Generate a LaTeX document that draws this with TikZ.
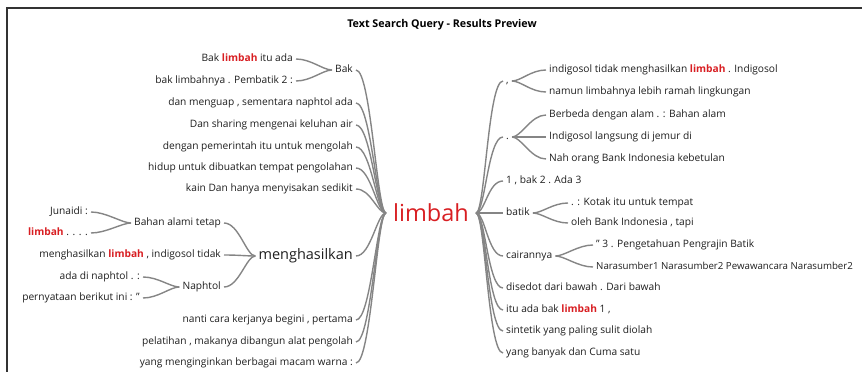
\documentclass[tikz,border=0pt]{standalone}
\usepackage{fontspec}
\setmainfont{Open Sans}
\definecolor{hitred}{HTML}{D81E22}
\definecolor{linkgray}{HTML}{858585}
\definecolor{wordgray}{HTML}{1E1E1E}
\newcommand{\hitword}{{\bfseries\color{hitred}limbah}}

\begin{document}
\begin{tikzpicture}[x=1pt,y=-1pt,
  word/.style={font=\fontsize{10.2}{12}\selectfont, text=wordgray, inner sep=3pt, text height=7.5pt, text depth=2.2pt},
  toleft/.style={draw=linkgray, line width=1.4pt, out=180, in=0, out distance=9pt, in distance=15pt},
  toright/.style={draw=linkgray, line width=1.4pt, out=0, in=180, out distance=9pt, in distance=15pt}]
\useasboundingbox (0,0) rectangle (862,372);
\draw[line width=1.5pt, draw=black!80] (862,8) -- (7,8) -- (7,372);

\node[font=\bfseries\fontsize{10.7}{12}\selectfont] (title) at (442,25) {Text Search Query - Results Preview};

% root
\node[text=hitred, font=\fontsize{23.5}{26}\selectfont, inner xsep=7pt, inner ysep=0pt] (root) at (431,213) {limbah};

% left side
\node[word, anchor=east] (bak) at (356,70) {Bak};
\node[word, anchor=east] (bak1) at (296,59) {Bak \hitword{} itu ada};
\node[word, anchor=east] (bak2) at (296,81) {bak limbahnya . Pembatik 2 :};
\node[word, anchor=east] (a1) at (356,103) {dan menguap , sementara naphtol ada};
\node[word, anchor=east] (a2) at (356,125) {Dan sharing mengenai keluhan air};
\node[word, anchor=east] (a3) at (356,147) {dengan pemerintah itu untuk mengolah};
\node[word, anchor=east] (a4) at (356,168) {hidup untuk dibuatkan tempat pengolahan};
\node[word, anchor=east] (a5) at (356,189) {kain Dan hanya menyisakan sedikit};

\node[word, anchor=east, font=\fontsize{14.5}{16}\selectfont, text height=10pt, text depth=3pt] (meng) at (356,256) {menghasilkan};
\node[word, anchor=east] (bahan) at (224,223) {Bahan alami tetap};
\node[word, anchor=east] (bahan1) at (91,212) {Junaidi :};
\node[word, anchor=east] (bahan2) at (91,233) {\hitword{} . . . .};
\node[word, anchor=east] (m2) at (224,255) {menghasilkan \hitword{} , indigosol tidak};
\node[word, anchor=east] (naph) at (224,287) {Naphtol};
\node[word, anchor=east] (naph1) at (143,277) {ada di naphtol . :};
\node[word, anchor=east] (naph2) at (143,298) {pernyataan berikut ini : "};

\node[word, anchor=east] (z1) at (356,320) {nanti cara kerjanya begini , pertama};
\node[word, anchor=east] (z2) at (356,342) {pelatihan , makanya dibangun alat pengolah};
\node[word, anchor=east] (z3) at (356,363) {yang menginginkan berbagai macam warna :};

% right side
\node[word, anchor=west] (comma) at (503,81) {,};
\node[word, anchor=west] (comma1) at (546,70) {indigosol tidak menghasilkan \hitword{} . Indigosol};
\node[word, anchor=west] (comma2) at (546,92) {namun limbahnya lebih ramah lingkungan};
\node[word, anchor=west] (dot) at (503,137) {.};
\node[word, anchor=west] (dot1) at (546,115) {Berbeda dengan alam . : Bahan alam};
\node[word, anchor=west] (dot2) at (546,137) {Indigosol langsung di jemur di};
\node[word, anchor=west] (dot3) at (546,159) {Nah orang Bank Indonesia kebetulan};
\node[word, anchor=west] (r1) at (503,181) {1 , bak 2 . Ada 3};
\node[word, anchor=west] (batik) at (503,213) {batik};
\node[word, anchor=west] (batik1) at (568,203) {. : Kotak itu untuk tempat};
\node[word, anchor=west] (batik2) at (568,223) {oleh Bank Indonesia , tapi};
\node[word, anchor=west] (cair) at (503,256) {cairannya};
\node[word, anchor=west] (cair1) at (593,245) {" 3 . Pengetahuan Pengrajin Batik};
\node[word, anchor=west, font=\fontsize{9.7}{12}\selectfont] (cair2) at (593,267) {Narasumber1 Narasumber2 Pewawancara Narasumber2};
\node[word, anchor=west] (r2) at (503,288) {disedot dari bawah . Dari bawah};
\node[word, anchor=west] (r3) at (503,310) {itu ada bak \hitword{} 1 ,};
\node[word, anchor=west] (r4) at (503,331) {sintetik yang paling sulit diolah};
\node[word, anchor=west] (r5) at (503,353) {yang banyak dan Cuma satu};

% links
\foreach \c in {bak,a1,a2,a3,a4,a5,meng,z1,z2,z3}
  \draw[toleft] (root.west) to (\c.east);
\foreach \c in {bak1,bak2}
  \draw[toleft] (bak.west) to (\c.east);
\foreach \c in {bahan,m2,naph}
  \draw[toleft] (meng.west) to (\c.east);
\foreach \c in {bahan1,bahan2}
  \draw[toleft] (bahan.west) to (\c.east);
\foreach \c in {naph1,naph2}
  \draw[toleft] (naph.west) to (\c.east);

\foreach \c in {comma,dot,r1,batik,cair,r2,r3,r4,r5}
  \draw[toright] (root.east) to (\c.west);
\foreach \c in {comma1,comma2}
  \draw[toright] (comma.east) to (\c.west);
\foreach \c in {dot1,dot2,dot3}
  \draw[toright] (dot.east) to (\c.west);
\foreach \c in {batik1,batik2}
  \draw[toright] (batik.east) to (\c.west);
\foreach \c in {cair1,cair2}
  \draw[toright] (cair.east) to (\c.west);
\end{tikzpicture}
\end{document}
